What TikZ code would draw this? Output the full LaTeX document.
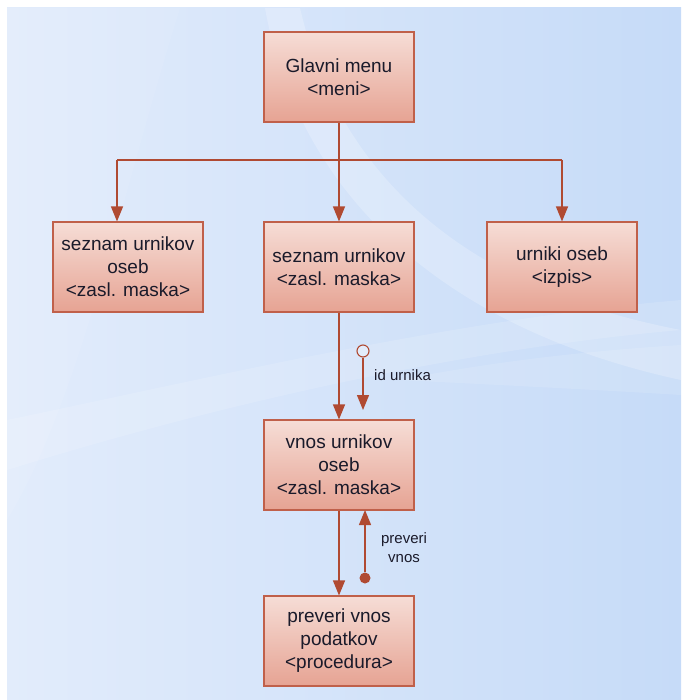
\documentclass[tikz,border=0pt]{standalone}
\usepackage{fontspec}
\setmainfont{Liberation Sans}
\usetikzlibrary{arrows.meta,positioning}
\definecolor{bgA}{HTML}{E2ECFB}
\definecolor{bgB}{HTML}{C6DBF8}
\definecolor{boxtop}{HTML}{F6DDD6}
\definecolor{boxbot}{HTML}{E6A393}
\definecolor{boxline}{HTML}{C0604A}
\definecolor{wire}{HTML}{B04A32}
\definecolor{ink}{HTML}{1A1A2A}
\tikzset{
  x=1pt, y=-1pt,
  modbox/.style={rectangle, draw=boxline, line width=1.1pt,
    top color=boxtop, bottom color=boxbot,
    minimum width=150pt, minimum height=90pt, inner sep=0pt,
    align=center, text=ink, font=\fontsize{19}{23}\selectfont},
  flow/.style={draw=wire, line width=1.3pt,
    -{Triangle[width=12pt,length=15pt]}},
  couple/.style={draw=wire, line width=1.3pt},
  tag/.style={text=ink, font=\fontsize{15}{19}\selectfont, align=center, inner sep=0pt}
}
\begin{document}
\begin{tikzpicture}
\useasboundingbox (0,0) rectangle (681,700);
% backdrop
\fill[white] (0,0) rectangle (681,700);
\shade[left color=bgA, right color=bgB] (7,8) rectangle (681,700);
\begin{scope}
\clip (7,8) rectangle (681,700);
\fill[white, opacity=0.22] (265,8) .. controls (300,200) and (450,330) .. (681,380)
  -- (681,330) .. controls (470,290) and (340,180) .. (300,8) -- cycle;
\fill[white, opacity=0.14] (7,420) .. controls (200,380) and (450,320) .. (681,300)
  -- (681,330) .. controls (450,350) and (200,410) .. (7,470) -- cycle;
\fill[white, opacity=0.12] (400,380) .. controls (500,360) and (600,350) .. (681,345)
  -- (681,395) .. controls (600,390) and (500,385) .. (400,380) -- cycle;
\fill[white, opacity=0.08] (7,8) -- (180,8) .. controls (120,200) and (80,400) .. (7,520) -- cycle;
\end{scope}

% modules
\node[modbox] (glavni) at (339,77) {Glavni menu\\<meni>};
\node[modbox] (seznamO) at (128,267) {seznam urnikov\\oseb\\<zasl. maska>};
\node[modbox] (seznam) at (339,267) {seznam urnikov\\<zasl. maska>};
\node[modbox] (izpis) at (562,267) {urniki oseb\\<izpis>};
\node[modbox] (vnos) at (339,465) {vnos urnikov\\oseb\\<zasl. maska>};
\node[modbox] (preveri) at (339,641) {preveri vnos\\podatkov\\<procedura>};

% calls from the main menu
\coordinate (split) at (339,160);
\draw[couple] (glavni.south) -- (split);
\draw[couple] (117,160) -- (562,160);
\draw[flow] (117,160) -- (seznamO.north -| 117,0);
\draw[flow] (split) -- (seznam.north);
\draw[flow] (562,160) -- (izpis.north);

% seznam -> vnos, with data couple
\draw[flow] (seznam.south) -- (vnos.north);
\node[circle, draw=wire, line width=1.1pt, fill=bgA, minimum size=12pt, inner sep=0pt] (dc) at (363,351) {};
\coordinate (dcEnd) at (363,410);
\draw[flow] (dc.south) -- (dcEnd);
\node[tag, anchor=west] (dclabel) at (374,375) {id urnika};

% vnos -> preveri, with control flag
\draw[flow] (vnos.south) -- (preveri.north);
\node[circle, fill=wire, minimum size=11pt, inner sep=0pt] (flag) at (365,578) {};
\coordinate (flagEnd) at (365,510);
\draw[flow] (flag.north) -- (flagEnd);
\node[tag, anchor=center] (flaglabel) at (404,548) {preveri\\vnos};
\end{tikzpicture}
\end{document}
